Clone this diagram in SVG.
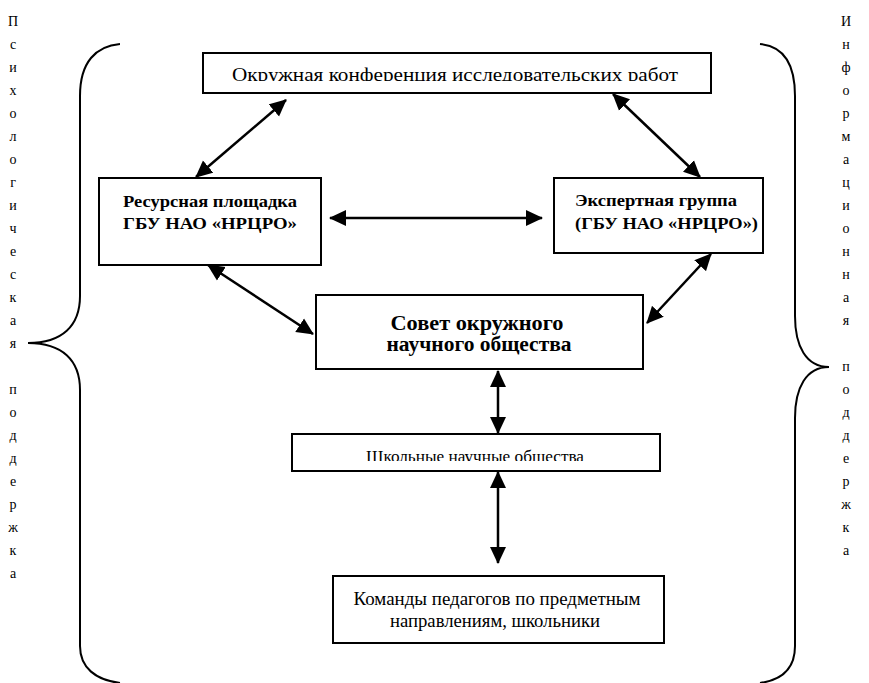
<svg xmlns="http://www.w3.org/2000/svg" width="869" height="683" viewBox="0 0 869 683">
<style>
.box{fill:#fff;stroke:#000;stroke-width:2}
text{font-family:"Liberation Serif","DejaVu Serif","Times New Roman",serif;fill:#000}
.b{font-weight:bold}
.side{font-size:14px;text-anchor:middle}
.brace{fill:none;stroke:#000;stroke-width:2}
.con line{stroke:#000;stroke-width:2.5;marker-start:url(#ah);marker-end:url(#ah)}
</style>
<defs>
<marker id="ah" markerUnits="userSpaceOnUse" markerWidth="17" markerHeight="17" refX="16" refY="8" orient="auto-start-reverse" viewBox="0 0 17 16">
<path d="M0,0 L17,8 L0,16 z" fill="#000"/>
</marker>
<clipPath id="c1"><rect x="203" y="53" width="508" height="28"/></clipPath>
<clipPath id="c2"><rect x="292" y="434" width="368" height="27"/></clipPath>
</defs>
<rect width="869" height="683" fill="#fff"/>
<g id="left-support">
<path class="brace" d="M120,44 C96,46 80,62 80,96 L80,296 C80,326 62,343 28,343 C62,343 80,360 80,390 L80,646 C80,668 96,680 120,683"/>
<text class="side"><tspan x="13" y="26">П</tspan><tspan x="13" y="49">с</tspan><tspan x="13" y="72">и</tspan><tspan x="13" y="95">х</tspan><tspan x="13" y="118">о</tspan><tspan x="13" y="141">л</tspan><tspan x="13" y="164">о</tspan><tspan x="13" y="187">г</tspan><tspan x="13" y="210">и</tspan><tspan x="13" y="233">ч</tspan><tspan x="13" y="256">е</tspan><tspan x="13" y="279">с</tspan><tspan x="13" y="302">к</tspan><tspan x="13" y="325">а</tspan><tspan x="13" y="348">я</tspan><tspan x="13" y="394">п</tspan><tspan x="13" y="417">о</tspan><tspan x="13" y="440">д</tspan><tspan x="13" y="463">д</tspan><tspan x="13" y="486">е</tspan><tspan x="13" y="509">р</tspan><tspan x="13" y="532">ж</tspan><tspan x="13" y="555">к</tspan><tspan x="13" y="578">а</tspan></text>
</g>
<g id="right-support">
<path class="brace" d="M760,44 C782,46 795,62 795,96 L795,316 C795,346 806,367 829,367 C806,367 795,388 795,418 L795,646 C795,668 782,680 760,683"/>
<text class="side"><tspan x="846" y="26">И</tspan><tspan x="846" y="49">н</tspan><tspan x="846" y="72">ф</tspan><tspan x="846" y="95">о</tspan><tspan x="846" y="118">р</tspan><tspan x="846" y="141">м</tspan><tspan x="846" y="164">а</tspan><tspan x="846" y="187">ц</tspan><tspan x="846" y="210">и</tspan><tspan x="846" y="233">о</tspan><tspan x="846" y="256">н</tspan><tspan x="846" y="279">н</tspan><tspan x="846" y="302">а</tspan><tspan x="846" y="325">я</tspan><tspan x="846" y="371">п</tspan><tspan x="846" y="394">о</tspan><tspan x="846" y="417">д</tspan><tspan x="846" y="440">д</tspan><tspan x="846" y="463">е</tspan><tspan x="846" y="486">р</tspan><tspan x="846" y="509">ж</tspan><tspan x="846" y="532">к</tspan><tspan x="846" y="555">а</tspan></text>
</g>
<g id="conference">
<rect class="box" x="203" y="53" width="508" height="40"/>
<g clip-path="url(#c1)">
<text x="455" y="81" font-size="19" text-anchor="middle" textLength="446" lengthAdjust="spacingAndGlyphs">Окружная конференция исследовательских работ</text>
</g>
</g>
<g id="resource">
<rect class="box" x="99" y="178" width="222" height="87"/>
<text class="b" font-size="17" text-anchor="middle"><tspan x="210" y="207" textLength="174" lengthAdjust="spacingAndGlyphs">Ресурсная площадка</tspan><tspan x="210" y="229" textLength="174" lengthAdjust="spacingAndGlyphs">ГБУ НАО «НРЦРО»</tspan></text>
</g>
<g id="expert">
<rect class="box" x="554" y="178" width="209" height="75"/>
<text class="b" font-size="17"><tspan x="575" y="206" textLength="162" lengthAdjust="spacingAndGlyphs">Экспертная группа</tspan><tspan x="575" y="229" textLength="183" lengthAdjust="spacingAndGlyphs">(ГБУ НАО «НРЦРО»)</tspan></text>
</g>
<g id="council">
<rect class="box" x="316" y="295" width="327" height="74"/>
<text class="b" font-size="20" text-anchor="middle"><tspan x="477" y="330" textLength="173" lengthAdjust="spacingAndGlyphs">Совет окружного</tspan><tspan x="479" y="351" textLength="185" lengthAdjust="spacingAndGlyphs">научного общества</tspan></text>
</g>
<g id="school">
<rect class="box" x="292" y="434" width="368" height="37"/>
<g clip-path="url(#c2)">
<text x="475" y="462" font-size="17" text-anchor="middle" textLength="218" lengthAdjust="spacingAndGlyphs">Школьные научные общества</text>
</g>
</g>
<g id="teams">
<rect class="box" x="333" y="576" width="331" height="67"/>
<text font-size="18" text-anchor="middle"><tspan x="497" y="605" textLength="287" lengthAdjust="spacingAndGlyphs">Команды педагогов по предметным</tspan><tspan x="495" y="627" textLength="210" lengthAdjust="spacingAndGlyphs">направлениям, школьники</tspan></text>
</g>
<g id="connectors" class="con">
<line x1="286" y1="100" x2="196" y2="177"/>
<line x1="613" y1="94" x2="700" y2="177"/>
<line x1="330" y1="218" x2="542" y2="218"/>
<line x1="208" y1="265" x2="313" y2="334"/>
<line x1="711" y1="254" x2="647" y2="323"/>
<line x1="498" y1="371" x2="498" y2="433"/>
<line x1="498" y1="472" x2="498" y2="563"/>
</g>
</svg>
